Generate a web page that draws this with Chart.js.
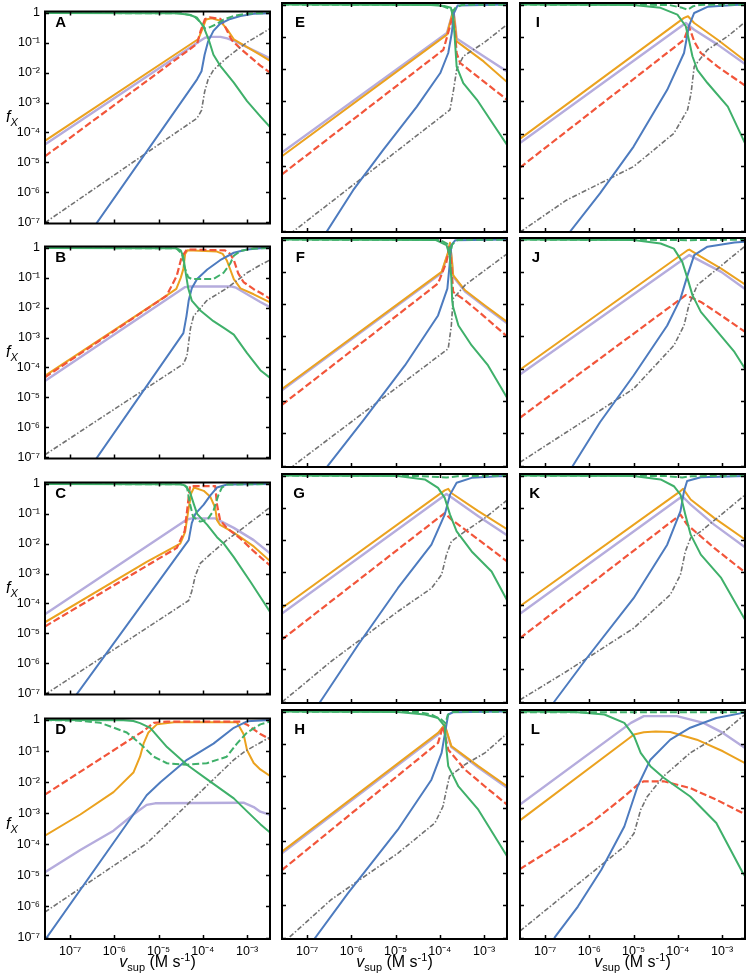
<!DOCTYPE html>
<html>
<head>
<meta charset="utf-8">
<title>f_X against v_sup, panels A-L</title>
<script src="https://cdn.jsdelivr.net/npm/chart.js@4.4.1/dist/chart.umd.min.js"></script>
<style>
  body { margin: 0; background: #fff; }
  #fig { position: relative; width: 750px; height: 979px; overflow: hidden; font-family: "Liberation Sans", Arial, sans-serif; color: #000; }
  #fig canvas { position: absolute; }
  .tag { position: absolute; width: 30px; text-align: right; font-size: 15px; line-height: 15px; font-weight: bold; }
  .ylab { position: absolute; left: 6px; font-size: 16px; line-height: 16px; font-style: italic; }
  .ylab sub { font-size: 11px; vertical-align: -4px; line-height: 0; }
  .xlab { position: absolute; width: 225px; text-align: center; font-size: 16px; line-height: 16px; white-space: nowrap; }
  .xlab sub { font-size: 11px; vertical-align: -4px; line-height: 0; }
  .xlab sup { font-size: 11px; vertical-align: 6px; line-height: 0; }
</style>
</head>
<body>
<div id="fig"></div>
<script>
// tick positions and their labels
const xTickValues = [1e-7, 1e-6, 1e-5, 1e-4, 1e-3];
const xTickLabels = ['10⁻⁷', '10⁻⁶', '10⁻⁵', '10⁻⁴', '10⁻³'];
const yTickValues = [1e-7, 1e-6, 1e-5, 1e-4, 1e-3, 1e-2, 1e-1, 1];
const yTickLabels = ['10⁻⁷', '10⁻⁶', '10⁻⁵', '10⁻⁴', '10⁻³', '10⁻²', '10⁻¹', '1'];

// curves, each point is [log10 v_sup, log10 f_X]
const A_green = [[-7.57,0],[-4.6,-0.01],[-4.3,-0.06],[-4.13,-0.16],[-3.98,-0.47],[-3.87,-0.88],[-3.76,-1.4],[-3.61,-1.76],[-3.3,-2.33],[-3.0,-2.95],[-2.7,-3.46],[-2.48,-3.82]];
const A_greenDash = [[-7.57,0],[-4.5,-0.01],[-4.2,-0.1],[-4.03,-0.35],[-3.95,-0.52],[-3.85,-0.48],[-3.7,-0.38],[-3.53,-0.22],[-3.3,-0.1],[-3.0,-0.02],[-2.48,0]];
const A_blue = [[-6.55,-7.35],[-4.13,-2.22],[-4.03,-1.95],[-3.96,-1.4],[-3.88,-0.95],[-3.76,-0.6],[-3.61,-0.36],[-3.38,-0.2],[-3.15,-0.1],[-2.85,-0.03],[-2.48,-0.01]];
const A_gray = [[-7.57,-7.02],[-4.13,-3.52],[-4.03,-3.26],[-3.96,-2.64],[-3.88,-2.22],[-3.76,-1.91],[-3.46,-1.5],[-3.0,-0.98],[-2.7,-0.72],[-2.48,-0.52]];
const A_red = [[-7.57,-4.8],[-4.13,-1.03],[-4.05,-0.6],[-3.95,-0.2],[-3.85,-0.15],[-3.6,-0.2],[-3.5,-0.45],[-3.35,-0.9],[-3.15,-1.19],[-2.7,-1.76],[-2.48,-2.0]];
const A_orange = [[-7.57,-4.28],[-4.1,-0.87],[-4.0,-0.5],[-3.93,-0.22],[-3.8,-0.18],[-3.62,-0.25],[-3.45,-0.55],[-3.3,-0.88],[-2.7,-1.4],[-2.48,-1.6]];
const A_lilac = [[-7.57,-4.4],[-4.1,-0.97],[-3.95,-0.83],[-3.85,-0.8],[-3.6,-0.8],[-3.45,-0.85],[-3.3,-0.93],[-2.7,-1.36],[-2.48,-1.52]];

const B_green = [[-7.57,0],[-4.6,-0.01],[-4.5,-0.08],[-4.44,-0.31],[-4.38,-0.9],[-4.33,-1.35],[-4.25,-1.76],[-4.05,-2.1],[-3.76,-2.45],[-3.5,-2.7],[-3.3,-2.9],[-3.0,-3.52],[-2.7,-4.09],[-2.48,-4.35]];
const B_greenDash = [[-7.57,0],[-4.6,-0.01],[-4.47,-0.2],[-4.42,-0.62],[-4.33,-0.98],[-4.25,-1.04],[-3.76,-1.04],[-3.53,-0.83],[-3.38,-0.52],[-3.3,-0.26],[-3.15,-0.1],[-2.85,-0.02],[-2.48,0]];
const B_blue = [[-6.55,-7.35],[-4.44,-2.85],[-4.37,-2.28],[-4.32,-1.76],[-4.25,-1.35],[-4.13,-1.04],[-3.9,-0.72],[-3.61,-0.41],[-3.3,-0.16],[-3.0,-0.05],[-2.7,-0.01],[-2.48,0]];
const B_gray = [[-7.57,-6.92],[-4.44,-3.88],[-4.36,-3.62],[-4.28,-2.69],[-4.21,-2.28],[-3.91,-1.76],[-3.46,-1.35],[-3.0,-0.83],[-2.7,-0.57],[-2.48,-0.4]];
const B_red = [[-7.57,-4.33],[-4.82,-1.6],[-4.59,-0.93],[-4.48,-0.31],[-4.36,-0.05],[-3.5,-0.08],[-3.38,-0.2],[-3.3,-0.4],[-3.2,-0.85],[-3.08,-1.14],[-2.85,-1.38],[-2.7,-1.5],[-2.48,-1.7]];
const B_orange = [[-7.57,-4.28],[-4.89,-1.66],[-4.6,-1.37],[-4.5,-1.0],[-4.44,-0.7],[-4.4,-0.2],[-4.35,-0.08],[-3.68,-0.12],[-3.55,-0.2],[-3.46,-0.41],[-3.38,-0.72],[-3.3,-1.04],[-3.15,-1.35],[-2.85,-1.55],[-2.7,-1.66],[-2.48,-1.82]];
const B_lilac = [[-7.57,-4.45],[-4.4,-1.31],[-4.3,-1.29],[-3.35,-1.29],[-3.25,-1.33],[-2.7,-1.81],[-2.48,-1.98]];

const C_green = [[-7.57,0],[-4.5,-0.01],[-4.4,-0.05],[-4.29,-0.28],[-4.2,-0.69],[-4.13,-1.0],[-3.9,-1.37],[-3.68,-1.78],[-3.53,-1.99],[-3.3,-2.45],[-2.92,-3.28],[-2.48,-4.28]];
const C_greenDash = [[-7.57,0],[-4.5,-0.01],[-4.36,-0.1],[-4.3,-0.6],[-4.22,-1.1],[-4.06,-1.26],[-3.9,-1.2],[-3.76,-0.9],[-3.65,-0.38],[-3.57,-0.12],[-3.45,-0.02],[-2.48,0]];
const C_blue = [[-7.0,-7.34],[-4.32,-1.88],[-4.25,-1.31],[-4.17,-1.0],[-3.98,-0.69],[-3.83,-0.38],[-3.68,-0.12],[-3.45,-0.02],[-2.48,0]];
const C_gray = [[-7.57,-7.05],[-4.32,-3.9],[-4.25,-3.59],[-4.17,-3.07],[-4.06,-2.66],[-3.83,-2.35],[-3.46,-1.88],[-3.0,-1.37],[-2.48,-0.78]];
const C_red = [[-7.57,-4.77],[-4.59,-2.14],[-4.41,-1.57],[-4.34,-0.69],[-4.29,-0.07],[-3.72,-0.07],[-3.68,-0.69],[-3.61,-1.21],[-3.46,-1.47],[-3.15,-1.83],[-2.85,-2.25],[-2.48,-2.73]];
const C_orange = [[-7.57,-4.63],[-5.27,-2.61],[-4.51,-2.0],[-4.4,-1.6],[-4.33,-0.9],[-4.26,-0.3],[-4.2,-0.12],[-3.98,-0.23],[-3.83,-0.43],[-3.72,-0.8],[-3.68,-1.21],[-3.61,-1.37],[-3.3,-1.63],[-2.85,-2.09],[-2.48,-2.58]];
const C_lilac = [[-7.57,-4.36],[-4.36,-1.19],[-4.25,-1.15],[-3.72,-1.15],[-3.3,-1.47],[-2.85,-1.88],[-2.48,-2.32]];

const D_green = [[-7.57,0],[-5.8,-0.01],[-5.57,-0.03],[-5.42,-0.1],[-5.19,-0.25],[-4.81,-0.87],[-4.36,-1.44],[-3.91,-1.9],[-3.3,-2.52],[-3.0,-2.94],[-2.7,-3.35],[-2.48,-3.62]];
const D_greenDash = [[-7.57,0],[-6.8,-0.02],[-6.32,-0.09],[-5.72,-0.4],[-5.42,-0.76],[-5.11,-1.18],[-4.81,-1.39],[-4.36,-1.44],[-3.91,-1.39],[-3.46,-1.18],[-3.23,-0.76],[-3.0,-0.4],[-2.7,-0.14],[-2.48,-0.05]];
const D_blue = [[-7.57,-7.08],[-5.57,-3.04],[-5.27,-2.42],[-4.96,-2.0],[-4.36,-1.28],[-3.76,-0.76],[-3.3,-0.25],[-3.0,-0.04],[-2.48,0]];
const D_gray = [[-7.57,-6.18],[-5.27,-3.97],[-4.81,-3.35],[-4.06,-2.32],[-3.3,-1.28],[-3.04,-1.0],[-2.48,-0.55]];
const D_red = [[-7.57,-2.4],[-5.34,-0.35],[-5.11,-0.09],[-4.8,-0.05],[-3.15,-0.05],[-3.0,-0.15],[-2.85,-0.3],[-2.7,-0.45],[-2.48,-0.62]];
const D_orange = [[-7.57,-3.72],[-6.77,-3.04],[-6.02,-2.32],[-5.57,-1.69],[-5.42,-1.18],[-5.34,-0.76],[-5.23,-0.4],[-5.04,-0.14],[-4.65,-0.07],[-3.23,-0.07],[-3.08,-0.45],[-3.0,-0.97],[-2.85,-1.38],[-2.7,-1.59],[-2.48,-1.8]];
const D_lilac = [[-7.57,-4.9],[-6.77,-4.18],[-6.02,-3.56],[-5.57,-3.04],[-5.27,-2.73],[-5.08,-2.68],[-3.08,-2.66],[-2.85,-2.8],[-2.7,-2.95],[-2.48,-3.05]];

const E_green = [[-7.57,0],[-4.2,-0.01],[-3.9,-0.04],[-3.75,-0.1],[-3.7,-0.4],[-3.67,-0.88],[-3.62,-1.92],[-3.47,-2.43],[-3.16,-2.95],[-2.86,-3.57],[-2.48,-4.35]];
const E_greenDash = [[-7.57,0],[-4.0,-0.01],[-3.75,-0.15],[-3.7,-0.2],[-3.65,-0.1],[-3.5,-0.01],[-2.48,0]];
const E_blue = [[-6.75,-7.45],[-6.56,-7.04],[-5.96,-5.75],[-5.28,-4.5],[-4.52,-3.16],[-3.99,-2.12],[-3.81,-1.5],[-3.73,-0.88],[-3.68,-0.26],[-3.6,-0.03],[-2.48,0]];
const E_gray = [[-7.57,-7.3],[-3.77,-3.26],[-3.69,-2.64],[-3.62,-2.02],[-3.47,-1.6],[-3.01,-1.19],[-2.48,-0.62]];
const E_red = [[-7.57,-5.26],[-3.92,-1.4],[-3.77,-0.67],[-3.7,-0.26],[-3.66,-0.8],[-3.62,-1.5],[-3.54,-1.81],[-3.01,-2.38],[-2.48,-2.95]];
const E_orange = [[-7.57,-4.7],[-3.84,-0.93],[-3.72,-0.3],[-3.69,-0.22],[-3.65,-0.7],[-3.62,-1.14],[-3.01,-1.76],[-2.48,-2.4]];
const E_lilac = [[-7.57,-4.58],[-3.84,-0.88],[-3.72,-0.3],[-3.69,-0.22],[-3.65,-0.65],[-3.62,-1.05],[-3.01,-1.6],[-2.48,-2.07]];

const F_green = [[-7.57,0],[-4.1,-0.01],[-3.85,-0.17],[-3.78,-0.48],[-3.74,-1.2],[-3.72,-1.9],[-3.7,-2.09],[-3.58,-2.66],[-3.28,-3.28],[-2.91,-3.9],[-2.48,-4.9]];
const F_greenDash = [[-7.57,0],[-4.0,-0.01],[-3.8,-0.15],[-3.76,-0.4],[-3.72,-0.15],[-3.6,-0.01],[-2.48,0]];
const F_blue = [[-6.7,-7.4],[-6.53,-7.0],[-5.7,-5.55],[-4.79,-3.9],[-4.04,-2.35],[-3.83,-1.52],[-3.78,-0.79],[-3.74,-0.17],[-3.65,-0.02],[-2.48,0]];
const F_gray = [[-7.57,-7.3],[-7.21,-6.9],[-3.81,-3.38],[-3.74,-2.66],[-3.7,-1.83],[-3.43,-1.41],[-2.98,-0.95],[-2.48,-0.44]];
const F_red = [[-7.57,-5.12],[-4.04,-1.36],[-3.85,-0.69],[-3.78,-0.17],[-3.74,-0.8],[-3.7,-1.62],[-3.43,-1.88],[-2.98,-2.4],[-2.48,-3.0]];
const F_orange = [[-7.57,-4.63],[-3.96,-1.0],[-3.81,-0.38],[-3.77,-0.1],[-3.73,-0.6],[-3.7,-1.1],[-3.43,-1.57],[-2.98,-2.04],[-2.48,-2.55]];
const F_lilac = [[-7.57,-4.67],[-3.96,-1.04],[-3.81,-0.42],[-3.77,-0.14],[-3.73,-0.64],[-3.7,-1.14],[-3.43,-1.61],[-2.98,-2.08],[-2.48,-2.59]];

const G_green = [[-7.57,0],[-4.95,-0.01],[-4.34,-0.12],[-4.04,-0.38],[-3.89,-0.69],[-3.77,-1.21],[-3.62,-1.73],[-3.28,-2.35],[-2.83,-2.97],[-2.48,-3.86]];
const G_greenDash = [[-7.57,0],[-4.5,-0.01],[-3.85,-0.06],[-3.6,-0.02],[-2.48,0]];
const G_blue = [[-6.8,-7.2],[-6.65,-6.9],[-5.85,-5.25],[-4.95,-3.49],[-4.19,-2.14],[-3.89,-1.21],[-3.77,-0.59],[-3.62,-0.22],[-3.28,-0.07],[-2.68,-0.02],[-2.48,-0.01]];
const G_gray = [[-7.57,-7.02],[-6.46,-5.76],[-4.95,-4.21],[-4.19,-3.49],[-3.96,-3.07],[-3.85,-2.45],[-3.74,-2.04],[-3.43,-1.73],[-2.98,-1.31],[-2.48,-0.76]];
const G_red = [[-7.57,-5.08],[-3.89,-1.16],[-3.74,-1.36],[-3.13,-1.98],[-2.48,-2.66]];
const G_orange = [[-7.57,-4.1],[-3.89,-0.46],[-3.81,-0.41],[-3.74,-0.54],[-3.13,-1.1],[-2.48,-1.66]];
const G_lilac = [[-7.57,-4.27],[-3.85,-0.57],[-3.74,-0.67],[-3.13,-1.26],[-2.48,-1.85]];

const H_green = [[-7.57,0],[-4.95,-0.01],[-4.34,-0.09],[-4.04,-0.2],[-3.89,-0.45],[-3.85,-1.18],[-3.81,-1.69],[-3.58,-2.32],[-3.13,-3.04],[-2.48,-4.48]];
const H_greenDash = [[-7.57,0],[-4.5,-0.01],[-4.19,-0.09],[-3.96,-0.25],[-3.87,-0.36],[-3.82,-0.1],[-3.7,-0.01],[-2.48,0]];
const H_blue = [[-7.0,-7.4],[-6.83,-7.03],[-6.08,-5.63],[-4.95,-3.66],[-4.19,-2.11],[-3.96,-1.28],[-3.87,-0.56],[-3.81,-0.09],[-3.7,-0.02],[-2.48,0]];
const H_gray = [[-7.57,-7.2],[-6.46,-5.83],[-4.95,-4.39],[-4.11,-3.45],[-3.93,-2.94],[-3.85,-2.42],[-3.78,-2.0],[-3.43,-1.64],[-2.98,-1.28],[-2.48,-0.68]];
const H_red = [[-7.57,-4.91],[-4.04,-0.97],[-3.93,-0.45],[-3.81,-1.18],[-3.43,-1.8],[-2.98,-2.32],[-2.48,-2.88]];
const H_orange = [[-7.57,-4.34],[-4.04,-0.66],[-3.89,-0.4],[-3.74,-1.07],[-3.13,-1.69],[-2.48,-2.31]];
const H_lilac = [[-7.57,-4.39],[-4.04,-0.71],[-3.89,-0.45],[-3.74,-1.1],[-3.13,-1.73],[-2.48,-2.36]];

const I_green = [[-7.57,0],[-5.0,-0.01],[-4.39,-0.1],[-4.01,-0.31],[-3.82,-0.67],[-3.75,-1.09],[-3.67,-1.6],[-3.56,-2.02],[-3.33,-2.43],[-2.87,-3.16],[-2.48,-4.3]];
const I_greenDash = [[-7.57,0],[-4.2,-0.01],[-3.9,-0.1],[-3.78,-0.16],[-3.65,-0.05],[-3.5,-0.01],[-2.48,0]];
const I_blue = [[-6.6,-7.35],[-6.44,-7.04],[-5.76,-5.85],[-5.0,-4.4],[-4.24,-2.64],[-3.86,-1.5],[-3.75,-0.67],[-3.63,-0.26],[-3.33,-0.07],[-2.72,-0.01],[-2.48,0]];
const I_gray = [[-7.57,-7.05],[-6.52,-6.06],[-5.0,-5.02],[-4.09,-3.99],[-3.78,-3.26],[-3.7,-2.74],[-3.63,-1.92],[-3.33,-1.4],[-2.87,-0.98],[-2.48,-0.54]];
const I_red = [[-7.57,-5.05],[-3.86,-1.09],[-3.75,-0.67],[-3.63,-1.14],[-3.48,-1.5],[-3.1,-1.92],[-2.48,-2.51]];
const I_orange = [[-7.57,-4.16],[-3.86,-0.41],[-3.77,-0.36],[-3.63,-0.57],[-3.1,-1.09],[-2.48,-1.74]];
const I_lilac = [[-7.57,-4.29],[-3.82,-0.57],[-3.63,-0.78],[-3.1,-1.24],[-2.48,-1.84]];

const J_green = [[-7.57,0],[-5.0,-0.01],[-4.39,-0.12],[-4.09,-0.28],[-3.9,-0.69],[-3.78,-1.21],[-3.67,-1.72],[-3.48,-2.24],[-3.1,-2.86],[-2.72,-3.48],[-2.48,-4.0]];
const J_greenDash = [[-7.57,0],[-4.2,-0.01],[-3.8,-0.02],[-3.4,-0.01],[-2.48,0]];
const J_blue = [[-6.55,-7.4],[-6.37,-7.0],[-5.76,-5.66],[-5.0,-4.21],[-4.24,-2.66],[-3.94,-1.83],[-3.78,-1.1],[-3.63,-0.48],[-3.33,-0.22],[-2.72,-0.09],[-2.48,-0.07]];
const J_gray = [[-7.57,-6.9],[-6.52,-5.97],[-5.0,-4.62],[-4.09,-3.28],[-3.86,-2.66],[-3.75,-2.03],[-3.56,-1.41],[-3.1,-0.9],[-2.48,-0.2]];
const J_red = [[-7.57,-5.52],[-3.82,-1.72],[-3.48,-1.93],[-3.02,-2.35],[-2.48,-2.86]];
const J_orange = [[-7.57,-4.03],[-3.78,-0.33],[-3.74,-0.31],[-3.48,-0.53],[-3.02,-0.9],[-2.48,-1.39]];
const J_lilac = [[-7.57,-4.18],[-3.74,-0.48],[-3.02,-1.0],[-2.48,-1.53]];

const K_green = [[-7.57,0],[-5.0,-0.01],[-4.39,-0.12],[-4.09,-0.33],[-3.94,-0.59],[-3.83,-1.21],[-3.71,-1.83],[-3.48,-2.45],[-3.02,-3.17],[-2.48,-4.47]];
const K_greenDash = [[-7.57,0],[-4.3,-0.01],[-3.9,-0.06],[-3.7,-0.02],[-2.48,0]];
const K_blue = [[-6.95,-7.4],[-6.79,-7.0],[-6.06,-5.66],[-5.0,-3.8],[-4.24,-2.14],[-3.94,-1.1],[-3.86,-0.48],[-3.79,-0.17],[-3.48,-0.05],[-2.48,-0.01]];
const K_gray = [[-7.57,-6.95],[-6.52,-6.07],[-5.0,-4.73],[-4.17,-3.69],[-3.94,-3.07],[-3.83,-2.35],[-3.71,-1.93],[-3.48,-1.73],[-3.02,-1.21],[-2.48,-0.6]];
const K_red = [[-7.57,-5.04],[-3.94,-1.21],[-3.79,-1.52],[-3.18,-2.24],[-2.48,-3.0]];
const K_orange = [[-7.57,-4.05],[-3.94,-0.48],[-3.88,-0.41],[-3.71,-0.74],[-3.18,-1.31],[-2.48,-1.98]];
const K_lilac = [[-7.57,-4.28],[-3.9,-0.64],[-3.71,-0.9],[-3.18,-1.52],[-2.48,-2.22]];

const L_green = [[-7.57,0],[-6.33,-0.01],[-5.66,-0.09],[-5.21,-0.35],[-4.99,-0.76],[-4.84,-1.28],[-4.62,-1.69],[-4.32,-2.05],[-3.72,-2.63],[-3.13,-3.45],[-2.53,-5.0],[-2.48,-5.1]];
const L_greenDash = [[-7.57,-0.02],[-2.48,-0.02]];
const L_blue = [[-6.9,-7.4],[-6.78,-6.99],[-6.26,-6.04],[-5.73,-4.9],[-5.21,-3.56],[-4.91,-2.32],[-4.62,-1.49],[-4.17,-0.87],[-3.72,-0.5],[-3.13,-0.2],[-2.53,-0.04],[-2.48,-0.04]];
const L_gray = [[-7.57,-6.8],[-6.7,-5.83],[-5.96,-5.01],[-5.21,-4.18],[-4.99,-3.77],[-4.84,-3.04],[-4.69,-2.63],[-4.32,-2.0],[-3.72,-1.28],[-2.98,-0.66],[-2.53,-0.14],[-2.48,-0.1]];
const L_red = [[-7.57,-4.88],[-6.7,-4.13],[-5.96,-3.45],[-5.21,-2.63],[-4.91,-2.27],[-4.77,-2.16],[-4.32,-2.16],[-3.72,-2.37],[-3.13,-2.73],[-2.48,-3.18]];
const L_orange = [[-7.57,-3.37],[-4.99,-0.71],[-4.77,-0.64],[-4.5,-0.62],[-4.17,-0.63],[-3.57,-0.87],[-2.98,-1.23],[-2.48,-1.6]];
const L_lilac = [[-7.57,-2.88],[-5.06,-0.35],[-4.77,-0.14],[-4.02,-0.14],[-3.42,-0.35],[-2.98,-0.66],[-2.48,-1.13]];

// first listed is drawn on top
const seriesStyle = [
  { color: '#3fb06a', width: 2, dash: [] },              // green
  { color: '#3fb06a', width: 2, dash: [7, 3] },          // green dashed
  { color: '#4d7bbf', width: 2, dash: [] },              // blue
  { color: '#727272', width: 1.6, dash: [5, 2, 1.5, 2] },// grey dash-dot
  { color: '#f2553a', width: 2.2, dash: [7, 3] },        // red dashed
  { color: '#eba21f', width: 2, dash: [] },              // orange
  { color: '#b5acdd', width: 2.4, dash: [] },            // lilac
];

const panels = [
  { tag: 'A', col: 0, row: 0, series: [A_green, A_greenDash, A_blue, A_gray, A_red, A_orange, A_lilac] },
  { tag: 'B', col: 0, row: 1, series: [B_green, B_greenDash, B_blue, B_gray, B_red, B_orange, B_lilac] },
  { tag: 'C', col: 0, row: 2, series: [C_green, C_greenDash, C_blue, C_gray, C_red, C_orange, C_lilac] },
  { tag: 'D', col: 0, row: 3, series: [D_green, D_greenDash, D_blue, D_gray, D_red, D_orange, D_lilac] },
  { tag: 'E', col: 1, row: 0, series: [E_green, E_greenDash, E_blue, E_gray, E_red, E_orange, E_lilac] },
  { tag: 'F', col: 1, row: 1, series: [F_green, F_greenDash, F_blue, F_gray, F_red, F_orange, F_lilac] },
  { tag: 'G', col: 1, row: 2, series: [G_green, G_greenDash, G_blue, G_gray, G_red, G_orange, G_lilac] },
  { tag: 'H', col: 1, row: 3, series: [H_green, H_greenDash, H_blue, H_gray, H_red, H_orange, H_lilac] },
  { tag: 'I', col: 2, row: 0, series: [I_green, I_greenDash, I_blue, I_gray, I_red, I_orange, I_lilac] },
  { tag: 'J', col: 2, row: 1, series: [J_green, J_greenDash, J_blue, J_gray, J_red, J_orange, J_lilac] },
  { tag: 'K', col: 2, row: 2, series: [K_green, K_greenDash, K_blue, K_gray, K_red, K_orange, K_lilac] },
  { tag: 'L', col: 2, row: 3, series: [L_green, L_greenDash, L_blue, L_gray, L_red, L_orange, L_lilac] },
];

const X_MIN = 2.7e-8, X_MAX = 3.3e-3;
const Y_MIN = 9e-8, Y_MAX = 1.12;
const COL_LEFT = [45, 282, 520];
const ROW_TOP = [3, 238, 474, 710];
const TAG_RIGHT = [66, 305, 540];
const PLOT_W = 225, PLOT_H = 229;
const FONT = '"Liberation Sans", Arial, sans-serif';

const fig = document.getElementById('fig');
const toPoints = arr => arr.map(([lx, ly]) => ({ x: Math.pow(10, lx), y: Math.pow(10, ly) }));

// box with inward ticks on all four sides
const framePlugin = {
  id: 'frame',
  afterDraw(chart) {
    const { ctx, chartArea: a, scales } = chart;
    ctx.save();
    ctx.strokeStyle = '#000';
    ctx.lineWidth = 1.5;
    ctx.beginPath();
    xTickValues.forEach(v => {
      const px = Math.round(scales.x.getPixelForValue(v)) + 0.5;
      ctx.moveTo(px, a.bottom); ctx.lineTo(px, a.bottom - 4);
      ctx.moveTo(px, a.top); ctx.lineTo(px, a.top + 4);
    });
    yTickValues.forEach(v => {
      const py = Math.round(scales.y.getPixelForValue(v)) + 0.5;
      ctx.moveTo(a.left, py); ctx.lineTo(a.left + 4, py);
      ctx.moveTo(a.right, py); ctx.lineTo(a.right - 4, py);
    });
    ctx.stroke();
    ctx.lineWidth = 2;
    ctx.strokeRect(a.left, a.top, a.right - a.left, a.bottom - a.top);
    ctx.restore();
  }
};

panels.forEach(p => {
  const yw = p.col === 0 ? 45 : 4;
  const xh = p.row === 3 ? 24 : 0;
  const w = yw + PLOT_W + 4;
  const h = 4 + PLOT_H + xh + 4;
  const canvas = document.createElement('canvas');
  canvas.width = w;
  canvas.height = h;
  canvas.style.width = w + 'px';
  canvas.style.height = h + 'px';
  canvas.style.left = (COL_LEFT[p.col] - yw) + 'px';
  canvas.style.top = (ROW_TOP[p.row] - 4) + 'px';
  fig.appendChild(canvas);

  new Chart(canvas, {
    type: 'line',
    data: {
      datasets: p.series.map((s, i) => ({
        data: toPoints(s),
        borderColor: seriesStyle[i].color,
        borderWidth: seriesStyle[i].width,
        borderDash: seriesStyle[i].dash,
        borderJoinStyle: 'round',
        pointRadius: 0,
        fill: false,
        tension: 0,
      })),
    },
    options: {
      responsive: false,
      animation: false,
      devicePixelRatio: 1,
      events: [],
      layout: { autoPadding: false, padding: { left: 0, top: 4, right: 4, bottom: 4 } },
      plugins: { legend: { display: false }, tooltip: { enabled: false } },
      scales: {
        x: {
          type: 'logarithmic', min: X_MIN, max: X_MAX,
          grid: { display: false, drawTicks: false },
          border: { display: false },
          afterBuildTicks: s => { s.ticks = xTickValues.map(v => ({ value: v })); },
          afterFit: s => { s.height = xh; },
          ticks: {
            display: p.row === 3, autoSkip: false, maxRotation: 0, padding: 5, color: '#000',
            font: { size: 12.5, family: FONT },
            callback: v => xTickLabels[xTickValues.indexOf(v)],
          },
        },
        y: {
          type: 'logarithmic', min: Y_MIN, max: Y_MAX,
          grid: { display: false, drawTicks: false },
          border: { display: false },
          afterBuildTicks: s => { s.ticks = yTickValues.map(v => ({ value: v })); },
          afterFit: s => { s.width = yw; },
          ticks: {
            display: p.col === 0, autoSkip: false, padding: 5, color: '#000',
            font: { size: 12.5, family: FONT },
            callback: v => yTickLabels[yTickValues.indexOf(v)],
          },
        },
      },
    },
    plugins: [framePlugin],
  });

  const tag = document.createElement('div');
  tag.className = 'tag';
  tag.textContent = p.tag;
  tag.style.left = (TAG_RIGHT[p.col] - 30) + 'px';
  tag.style.top = (ROW_TOP[p.row] + 10.5) + 'px';
  fig.appendChild(tag);

  if (p.col === 0) {
    const yl = document.createElement('div');
    yl.className = 'ylab';
    yl.innerHTML = '<i>f</i><sub><i>X</i></sub>';
    yl.style.top = (ROW_TOP[p.row] + 106) + 'px';
    fig.appendChild(yl);
  }
  if (p.row === 3) {
    const xl = document.createElement('div');
    xl.className = 'xlab';
    xl.innerHTML = '<i>v</i><sub>sup</sub> (M s<sup>-1</sup>)';
    xl.style.left = COL_LEFT[p.col] + 'px';
    xl.style.top = '954px';
    fig.appendChild(xl);
  }
});
</script>
</body>
</html>
